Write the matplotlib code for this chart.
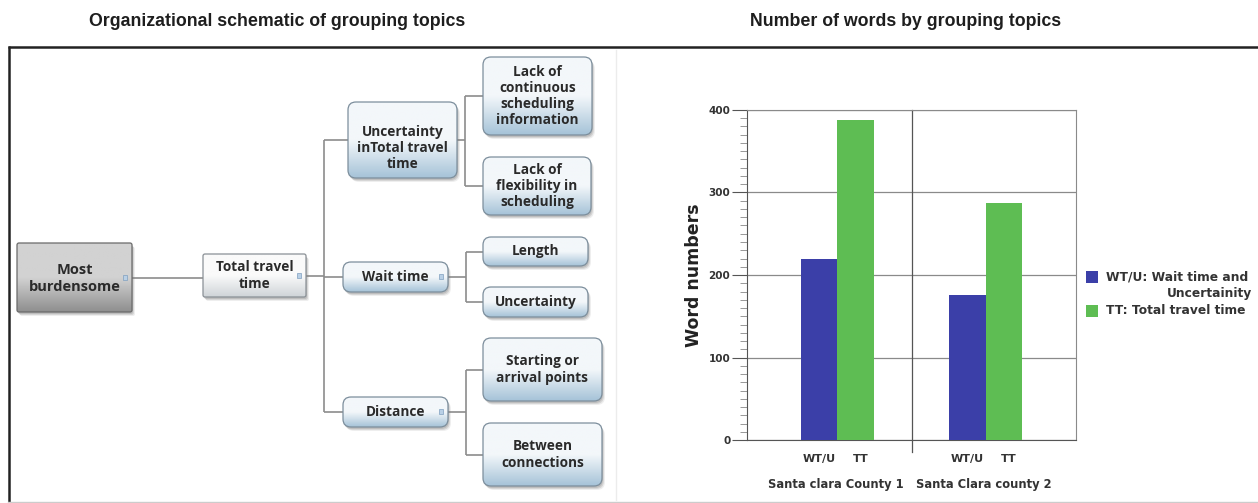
import matplotlib
matplotlib.use("Agg")
import matplotlib.pyplot as plt
import numpy as np
from matplotlib.patches import FancyBboxPatch, Rectangle
from matplotlib.colors import LinearSegmentedColormap
from matplotlib.ticker import MultipleLocator

W, H = 1258, 503

#  Bar chart data
groups = ["Santa clara County 1", "Santa Clara county 2"]
series_short = ["WT/U", "TT"]
series_legend = ["WT/U: Wait time and", "TT: Total travel time"]
wt_u = [220, 176]
tt = [388, 287]

#  Diagram data (node -> label, parent -> children)
node_labels = {
    "most": "Most\nburdensome",
    "total": "Total travel\ntime",
    "unc": "Uncertainty\ninTotal travel\ntime",
    "wait": "Wait time",
    "dist": "Distance",
    "lack_cont": "Lack of\ncontinuous\nscheduling\ninformation",
    "lack_flex": "Lack of\nflexibility in\nscheduling",
    "length": "Length",
    "unc2": "Uncertainty",
    "start": "Starting or\narrival points",
    "between": "Between\nconnections",
}
children = {
    "most": ["total"],
    "total": ["unc", "wait", "dist"],
    "unc": ["lack_cont", "lack_flex"],
    "wait": ["length", "unc2"],
    "dist": ["start", "between"],
}

#  Layout of the diagram in pixels: (x0, y0, x1, y1, style)
layout = {
    "most": (17, 243, 132, 312, "dark"),
    "total": (203, 254, 306, 297, "light"),
    "unc": (348, 102, 457, 178, "blue"),
    "wait": (343, 262, 448, 292, "blue"),
    "dist": (343, 397, 448, 427, "blue"),
    "lack_cont": (483, 57, 592, 135, "blue"),
    "lack_flex": (483, 157, 591, 215, "blue"),
    "length": (483, 237, 588, 266, "blue"),
    "unc2": (483, 287, 588, 317, "blue"),
    "start": (483, 338, 602, 401, "blue"),
    "between": (483, 423, 602, 486, "blue"),
}
bus_x = {"most": None, "total": 324, "unc": 465, "wait": 466, "dist": 466}
text_dy = {"unc": 8, "most": 1}
styles = {
    "dark": ("#d2d2d2", "#8f8f8f", "#6a6a6a", 2),
    "light": ("#fafafa", "#cfd4d8", "#8a9096", 2),
    "blue": ("#f3f7fa", "#a6c3d8", "#7c8e9c", 8),
}
marked = ["most", "total", "wait", "dist"]

fig = plt.figure(figsize=(W / 100, H / 100), dpi=100)
ax0 = fig.add_axes([0, 0, 1, 1])
ax0.set_axis_off()


def gradient_box(ax, x0, y0, x1, y1, top, bottom, edge, rad):
    bs = "round,pad=0,rounding_size={}".format(rad)
    for off, al in [(4, 0.12), (3, 0.2), (2, 0.25)]:
        ax.add_patch(FancyBboxPatch((x0 + off - 1, y0 + off), x1 - x0, y1 - y0, boxstyle=bs,
                                    fc="#7a7a7a", ec="none", alpha=al, zorder=2))
    patch = FancyBboxPatch((x0, y0), x1 - x0, y1 - y0, boxstyle=bs, fc="none", ec=edge, lw=0.9, zorder=4)
    ax.add_patch(patch)
    cmap = LinearSegmentedColormap.from_list("g", [top, top, bottom])
    grad = np.linspace(0, 1, 64).reshape(-1, 1)
    im = ax.imshow(grad, extent=(x0, x1, y1, y0), cmap=cmap, aspect="auto", origin="upper", zorder=3)
    im.set_clip_path(patch)


def mid_y(name):
    return (layout[name][1] + layout[name][3]) / 2


#  Connectors
line_kw = dict(color="#8c8c8c", lw=1.2, zorder=1, solid_capstyle="butt")
for parent, kids in children.items():
    px1 = layout[parent][2]
    py = mid_y(parent)
    if bus_x[parent] is None:
        ax0.plot([px1, layout[kids[0]][0]], [py, py], **line_kw)
        continue
    bx = bus_x[parent]
    ax0.plot([px1, bx], [py, py], **line_kw)
    ys = [mid_y(k) for k in kids] + [py]
    ax0.plot([bx, bx], [min(ys), max(ys)], **line_kw)
    for k in kids:
        ax0.plot([bx, layout[k][0]], [mid_y(k)] * 2, **line_kw)

#  Boxes
for name, (x0, y0, x1, y1, st) in layout.items():
    top, bottom, edge, rad = styles[st]
    gradient_box(ax0, x0, y0, x1, y1, top, bottom, edge, rad)
    fs = 10.5 if name == "most" else 9.8
    ax0.text((x0 + x1) / 2, mid_y(name) + text_dy.get(name, 0), node_labels[name], ha="center", va="center",
             fontsize=fs, fontweight="bold", family="Open Sans", color="#2a2a2a",
             linespacing=1.2, zorder=5)
for name in marked:
    x0, y0, x1, y1, st = layout[name]
    ax0.add_patch(Rectangle((x1 - 9, mid_y(name) - 3), 4, 5, fc="#b9d0e6", ec="#7f9fbf", lw=0.5, zorder=5))

#  Frame and titles
ax0.plot([8, W], [47, 47], color="#222222", lw=1.8, solid_capstyle="butt")
ax0.plot([8.5, 8.5], [46, H], color="#222222", lw=1.8, solid_capstyle="butt")
ax0.plot([8, W], [501.5, 501.5], color="#cccccc", lw=1)
ax0.plot([616, 616], [50, 500], color="#ececec", lw=1)
title_kw = dict(ha="center", va="baseline", fontsize=12.8, fontweight="bold",
                family="Liberation Sans", color="#1e1e1e")
ax0.text(277, 26, "Organizational schematic of grouping topics", **title_kw)
ax0.text(906, 26, "Number of words by grouping topics", **title_kw)

#  Bar chart
blue, green = "#3b3fa8", "#5ebd53"
ax = fig.add_axes([747 / W, (H - 440) / H, 329 / W, 330 / H])
x = np.array([0.55, 1.45])
w = 0.22
ax.bar(x - w / 2, wt_u, w, color=blue, zorder=3)
ax.bar(x + w / 2, tt, w, color=green, zorder=3)
ax.set_xlim(0, 2)
ax.set_ylim(0, 400)
ax.set_yticks([0, 100, 200, 300, 400])
ax.yaxis.set_minor_locator(MultipleLocator(10))
ax.tick_params(axis="y", which="major", length=11, color="#555555", labelsize=7.5, pad=1, labelcolor="#333333")
ax.tick_params(axis="y", which="minor", length=5, color="#888888")
for lbl in ax.get_yticklabels():
    lbl.set_fontweight("bold")
ax.yaxis.grid(True, color="#8a8a8a", lw=0.9)
ax.set_axisbelow(True)
for s in ["top", "right"]:
    ax.spines[s].set_color("#8a8a8a")
for s in ["left", "bottom"]:
    ax.spines[s].set_color("#555555")
ax.axvline(1.0, ymin=-0.036, ymax=1, clip_on=False, color="#555555", lw=0.9)

ticks = [x[0] - w / 2, x[0] + w / 2 + 0.03, x[1] - w / 2, x[1] + w / 2 + 0.03]
ax.set_xticks(ticks)
ax.set_xticklabels(series_short * 2, fontsize=8, fontweight="bold", color="#333333")
ax.tick_params(axis="x", length=0, pad=10)
for gx, g in zip(x, groups):
    ax.text(gx - 0.01, -0.136, g, transform=ax.get_xaxis_transform(), ha="center", va="center",
            fontsize=8.3, fontweight="bold", color="#333333")
ax.set_ylabel("Word numbers", fontsize=12.5, fontweight="bold", color="#222222")
ax.yaxis.set_label_coords(-0.135, 0.5)

#  Legend
leg_kw = dict(fontsize=8.8, fontweight="bold", color="#333333", va="center", ha="left", zorder=5)
ax0.add_patch(Rectangle((1086, 271), 12, 12, fc=blue, ec="none"))
ax0.add_patch(Rectangle((1086, 305), 12, 12, fc=green, ec="none"))
ax0.text(1106, 277, series_legend[0], **leg_kw)
ax0.text(1252, 293, "Uncertainity", **dict(leg_kw, ha="right"))
ax0.text(1106, 311, series_legend[1], **leg_kw)

ax0.set_xlim(0, W)
ax0.set_ylim(H, 0)

fig.savefig("out.png", dpi=100)
